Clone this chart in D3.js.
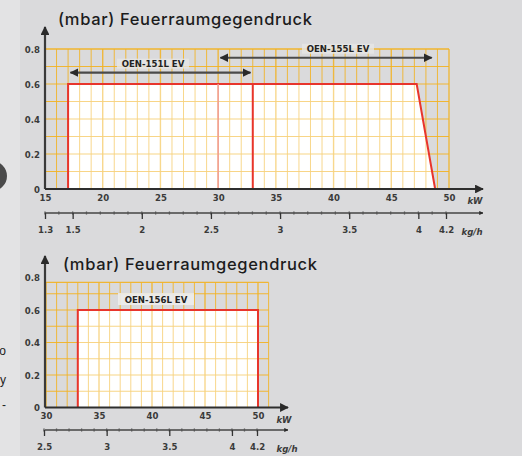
<!DOCTYPE html>
<html>
<head>
<meta charset="utf-8">
<script src="https://cdn.jsdelivr.net/npm/d3@7/dist/d3.min.js"></script>
<style>
html,body{margin:0;padding:0;background:#dadadc;}
svg{display:block;}
.lbl{font-family:"DejaVu Sans Condensed","DejaVu Sans",sans-serif;font-weight:bold;font-size:9.5px;fill:#3a3a3a;}
.title{font-family:Inter,"Liberation Sans",Arial,sans-serif;font-weight:500;font-size:16.5px;fill:#1c1c1c;}
</style>
</head>
<body>
<script>
// ---------- DATA ----------
const titleText = "(mbar) Feuerraumgegendruck";
// top chart
const topKwTicks = [15, 20, 25, 30, 35, 40, 45, 50];
const topKghTicks = [1.3, 1.5, 2, 2.5, 3, 3.5, 4, 4.2];
const topMbarTicks = [0, 0.2, 0.4, 0.6, 0.8];
const topAreaKw = [17, 17, 33, 47.2, 48.8];
const topAreaMbar = [0, 0.6, 0.6, 0.6, 0];
const topSplitKw = [30, 33];          // vertical red lines inside the field
const rangeNames = ["OEN-151L EV", "OEN-155L EV"];
const rangeFrom = [17.2, 30.2];
const rangeTo = [32.8, 48.5];
const rangeLevel = [0.665, 0.75];
// bottom chart
const botKwTicks = [30, 35, 40, 45, 50];
const botKghTicks = [2.5, 3, 3.5, 4, 4.2];
const botMbarTicks = [0, 0.2, 0.4, 0.6, 0.8];
const botAreaKw = [33, 33, 50, 50];
const botAreaMbar = [0, 0.6, 0.6, 0];
const botName = "OEN-156L EV";

// ---------- SETUP ----------
const W = 522, H = 456;
const svg = d3.select("body").append("svg").attr("width", W).attr("height", H);
const defs = svg.append("defs");
defs.append("marker").attr("id", "ah").attr("viewBox", "0 0 10 10").attr("refX", 9).attr("refY", 5)
  .attr("markerWidth", 4).attr("markerHeight", 4).attr("orient", "auto-start-reverse")
  .append("path").attr("d", "M0,0L10,5L0,10Z").attr("fill", "#2a2a2a");
defs.append("marker").attr("id", "ah2").attr("viewBox", "0 0 10 10").attr("refX", 9).attr("refY", 5)
  .attr("markerWidth", 3.2).attr("markerHeight", 3.2).attr("orient", "auto-start-reverse")
  .append("path").attr("d", "M0,0L10,5L0,10Z").attr("fill", "#2a2a2a");

svg.append("rect").attr("width", W).attr("height", H).attr("fill", "#dadadc");
svg.append("rect").attr("width", 20).attr("height", H).attr("fill", "#e3e3e4");
svg.append("circle").attr("cx", -8).attr("cy", 176).attr("r", 15).attr("fill", "#4a4a4a");
[["o", 355], ["y", 384], ["-", 409]].forEach(([t, yy]) => {
  svg.append("text").attr("x", 6).attr("y", yy).attr("text-anchor", "end")
    .attr("font-family", "Liberation Sans").attr("font-size", 12).attr("fill", "#222").text(t);
});

const line = d3.line();

function drawChart(cfg) {
  const g = svg.append("g");
  const {x, xg, y} = cfg;
  // grid
  const grid = g.append("g");
  const kwLines = d3.range(cfg.gridKw[0], cfg.gridKw[1] + 0.001, 1);
  const mbLines = d3.range(0, cfg.gridTop + 0.001, 0.1);
  // polygon fill
  const pts = cfg.areaKw.map((k, i) => [x(k), y(cfg.areaMbar[i])]);
  grid.append("path").attr("d", line(pts) + "Z").attr("fill", "#ffffff");
  grid.selectAll(".v").data(kwLines).join("line")
    .attr("x1", d => x(d)).attr("x2", d => x(d))
    .attr("y1", y(0)).attr("y2", y(cfg.gridTop))
    .attr("stroke", "#f3b322").attr("stroke-width", d => (d % 5 === 0 ? 1.4 : 1)).attr("opacity", 0.85);
  grid.selectAll(".h").data(mbLines.concat([cfg.gridTop])).join("line")
    .attr("x1", x(cfg.gridKw[0])).attr("x2", x(cfg.gridKw[1]))
    .attr("y1", d => y(d)).attr("y2", d => y(d))
    .attr("stroke", "#f3b322").attr("stroke-width", 1.2).attr("opacity", 0.9);
  // lighten grid inside field
  grid.append("path").attr("d", line(pts) + "Z").attr("fill", "#ffffff").attr("opacity", 0.4);
  // red outline
  g.append("path").attr("d", line(pts)).attr("fill", "none").attr("stroke", "#e8352c").attr("stroke-width", 2);
  (cfg.splits || []).forEach((k, i) => {
    g.append("line").attr("x1", x(k)).attr("x2", x(k)).attr("y1", y(0)).attr("y2", y(0.6))
      .attr("stroke", i === 0 ? "#f19a92" : "#e8352c").attr("stroke-width", i === 0 ? 1.5 : 2);
  });

  // y axis
  g.append("line").attr("x1", 45).attr("x2", 45).attr("y1", y(0)).attr("y2", cfg.yArrow)
    .attr("stroke", "#3a3a3a").attr("stroke-width", 2.2).attr("marker-end", "url(#ah)");
  const ya = d3.axisLeft(y).tickValues(cfg.mbarTicks).tickSize(0).tickPadding(5)
    .tickFormat(d => d === 0 ? "0" : d3.format(".1f")(d));
  const yg = g.append("g").attr("transform", "translate(45,0)").call(ya);
  yg.select(".domain").remove();
  yg.attr("font-family", null).attr("font-size", null);
  yg.selectAll("text").attr("class", "lbl");

  // kW axis
  g.append("line").attr("x1", 45).attr("x2", cfg.arrowX).attr("y1", y(0)).attr("y2", y(0))
    .attr("stroke", "#2e2e2e").attr("stroke-width", 2.2).attr("marker-end", "url(#ah)");
  const xa = d3.axisBottom(x).tickValues(cfg.kwTicks).tickSize(0).tickPadding(5).tickFormat(d3.format("d"));
  const xgAx = g.append("g").attr("transform", `translate(0,${y(0)})`).call(xa);
  xgAx.select(".domain").remove();
  xgAx.attr("font-family", null).attr("font-size", null);
  xgAx.selectAll("text").attr("class", "lbl");
  g.append("text").attr("class", "lbl").attr("x", cfg.kwUnitX).attr("y", y(0) + 15).attr("text-anchor", "middle")
    .style("font-style", "italic").text("kW");

  // kg/h axis
  const ky = cfg.kghY;
  g.append("line").attr("x1", 45).attr("x2", cfg.arrowX).attr("y1", ky).attr("y2", ky)
    .attr("stroke", "#444").attr("stroke-width", 1.3).attr("marker-end", "url(#ah2)");
  const minor = d3.range(Math.round(cfg.kghTicks[0] * 10), Math.round(cfg.kghTicks[cfg.kghTicks.length - 1] * 10) + 1).map(v => v / 10);
  g.selectAll(null).data(minor).join("line")
    .attr("x1", d => xg(d)).attr("x2", d => xg(d)).attr("y1", ky - 1.5).attr("y2", ky + 1.5)
    .attr("stroke", "#555").attr("stroke-width", 1.3);
  const ga = d3.axisBottom(xg).tickValues(cfg.kghTicks).tickSize(6).tickPadding(7)
    .tickFormat(d => String(d));
  const gg = g.append("g").attr("transform", `translate(0,${ky})`).call(ga);
  gg.select(".domain").remove();
  gg.attr("font-family", null).attr("font-size", null);
  gg.selectAll("line").attr("stroke", "#333").attr("stroke-width", 1.3);
  gg.selectAll("text").attr("class", "lbl");
  g.append("text").attr("class", "lbl").attr("x", cfg.kghUnitX).attr("y", ky + 22).attr("text-anchor", "middle")
    .style("font-style", "italic").text("kg/h");

  // title
  g.append("text").attr("class", "title").attr("x", cfg.titleX).attr("y", cfg.titleY)
    .attr("textLength", 254).attr("lengthAdjust", "spacing").text(titleText);
  return g;
}

// ---------- TOP CHART ----------
const tx = d3.scaleLinear().domain([15, 50]).range([45, 449]);
const txg = d3.scaleLinear().domain([1.3, 4.2]).range([45, 446]);
const ty = d3.scaleLinear().domain([0, 0.8]).range([189, 49]);
const gTop = drawChart({
  x: tx, xg: txg, y: ty, gridKw: [15, 50], gridTop: 0.8,
  areaKw: topAreaKw, areaMbar: topAreaMbar, splits: topSplitKw,
  mbarTicks: topMbarTicks, kwTicks: topKwTicks, kghTicks: topKghTicks,
  yArrow: 27, arrowX: 483, kwUnitX: 475, kghY: 213, kghUnitX: 472,
  titleX: 58, titleY: 25
});
// range arrows
rangeNames.forEach((name, i) => {
  const yy = ty(rangeLevel[i]);
  gTop.append("line").attr("x1", tx(rangeFrom[i])).attr("x2", tx(rangeTo[i])).attr("y1", yy).attr("y2", yy)
    .attr("stroke", "#4a4a4a").attr("stroke-width", 2.2)
    .attr("marker-start", "url(#ah)").attr("marker-end", "url(#ah)");
  const cx = i === 0 ? 153 : 338;
  gTop.append("rect").attr("x", cx - 36).attr("y", yy - 14).attr("width", 72).attr("height", 10)
    .attr("fill", "#e6e6e6").attr("opacity", 0.8);
  gTop.append("text").attr("class", "lbl").attr("x", cx).attr("y", yy - 5.5).attr("text-anchor", "middle")
    .style("fill", "#222").text(name);
});

// ---------- BOTTOM CHART ----------
const bx = d3.scaleLinear().domain([30, 50]).range([46, 258]);
const bxg = d3.scaleLinear().domain([2.5, 4.2]).range([44, 257]);
const by = d3.scaleLinear().domain([0, 0.6]).range([407.5, 310]);
const gBot = drawChart({
  x: bx, xg: bxg, y: by, gridKw: [30, 51], gridTop: 0.77,
  areaKw: botAreaKw, areaMbar: botAreaMbar, splits: [],
  mbarTicks: botMbarTicks, kwTicks: botKwTicks, kghTicks: botKghTicks,
  yArrow: 256, arrowX: 288, kwUnitX: 284, kghY: 430, kghUnitX: 287,
  titleX: 63, titleY: 270
});
gBot.append("rect").attr("x", 118).attr("y", 293).attr("width", 76).attr("height", 12)
  .attr("fill", "#ececec").attr("opacity", 0.9);
gBot.append("text").attr("class", "lbl").attr("x", 156).attr("y", 302.5).attr("text-anchor", "middle")
  .style("fill", "#222").text(botName);
</script>
</body>
</html>
